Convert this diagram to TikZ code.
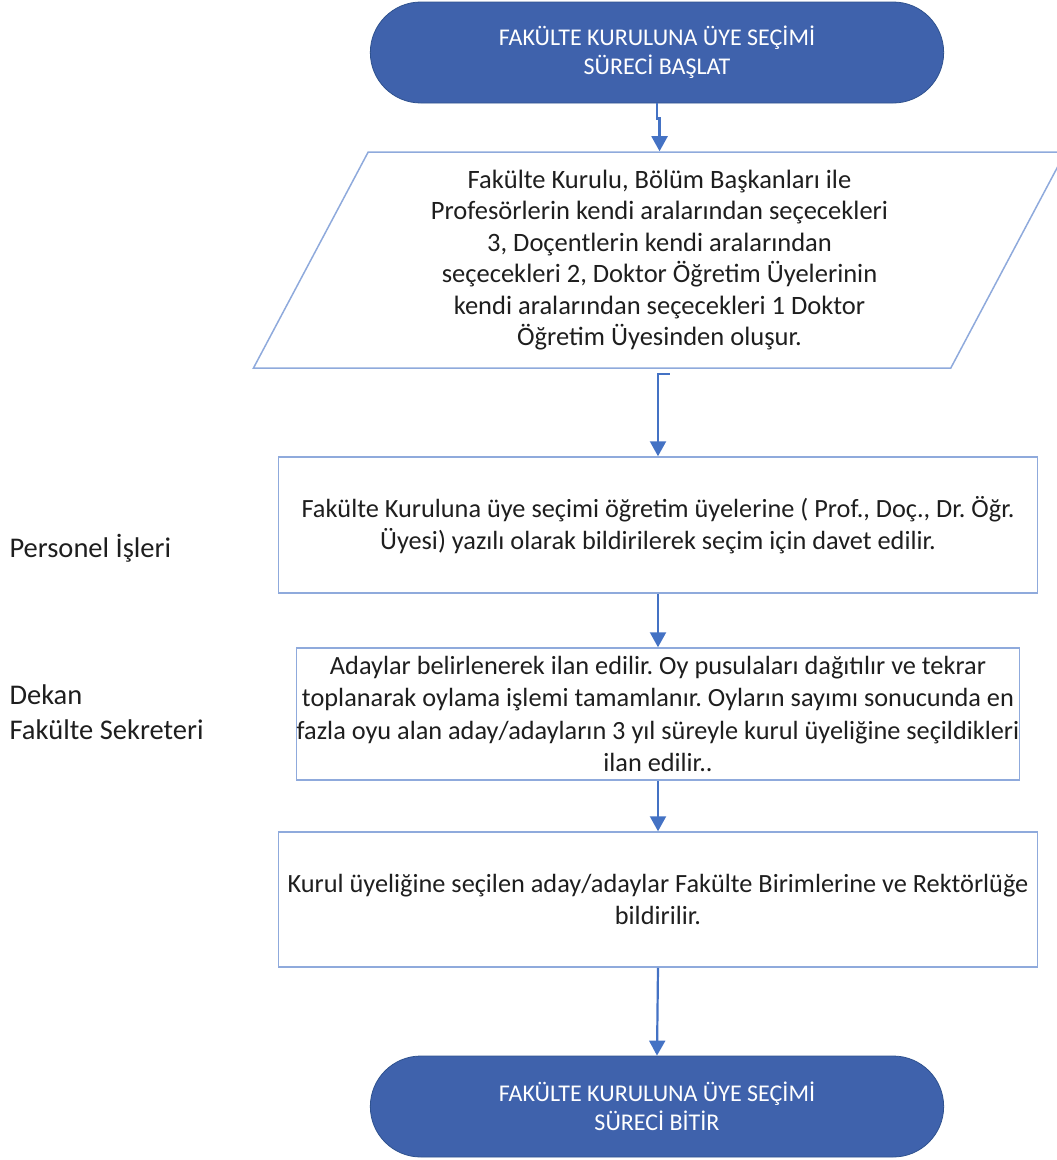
\documentclass[tikz,border=0pt]{standalone}
\usepackage{fontspec}
\setmainfont{Carlito}
\frenchspacing
\usetikzlibrary{arrows.meta,calc,shapes.geometric,shapes.misc}
\definecolor{termblue}{RGB}{63,98,172}
\definecolor{termline}{RGB}{47,82,143}
\definecolor{boxline}{RGB}{143,170,220}
\definecolor{flowline}{RGB}{68,114,196}
\definecolor{inkgray}{RGB}{30,30,30}
\tikzset{
	term/.style={rounded rectangle, draw=termline, line width=0.8pt, fill=termblue, text=white, minimum width=580pt, minimum height=101pt, align=center, font=\fontsize{24}{29}\selectfont},
	procbox/.style={rectangle, draw=boxline, line width=1.5pt, align=center, text=inkgray, font=\fontsize{26.3}{32.3}\selectfont, inner sep=0pt},
	databox/.style={trapezium, trapezium left angle=63.43, trapezium right angle=116.57, trapezium stretches=true, draw=boxline, line width=1.5pt, minimum width=819pt, minimum height=216pt, align=center, text=inkgray, font=\fontsize{26.5}{31.4}\selectfont, inner sep=0pt},
	flow/.style={draw=flowline, line width=2.2pt, -{Triangle[width=16pt,length=15pt]}},
	lane/.style={anchor=west, align=left, text=inkgray, font=\fontsize{28.5}{35}\selectfont}
}

\begin{document}
\begin{tikzpicture}[x=1pt,y=-1pt]
			%%%%% START %%%%%
			
			\path[use as bounding box] (0,0) rectangle (1057,1160);
			\clip (0,0) rectangle (1057,1160);
			
			\node[term] (start) at (657,52.5) {FAKÜLTE KURULUNA ÜYE SEÇİMİ\\SÜRECİ BAŞLAT};
			
			\node[databox] (members) at (659.5,260) {Fakülte Kurulu, Bölüm Başkanları ile\\Profesörlerin kendi aralarından seçecekleri\\3, Doçentlerin kendi aralarından\\seçecekleri 2, Doktor Öğretim Üyelerinin\\kendi aralarından seçecekleri 1 Doktor\\Öğretim Üyesinden oluşur.};
			
			\node[procbox, minimum width=759pt, minimum height=136pt] (invite) at (658,525) {Fakülte Kuruluna üye seçimi öğretim üyelerine ( Prof., Doç., Dr. Öğr.\\Üyesi) yazılı olarak bildirilerek seçim için davet edilir.};
			\node[procbox, minimum width=699pt, minimum height=132pt] (vote) at (658,714) {Adaylar belirlenerek ilan edilir. Oy pusulaları dağıtılır ve tekrar\\toplanarak oylama işlemi tamamlanır. Oyların sayımı sonucunda en\\fazla oyu alan aday/adayların 3 yıl süreyle kurul üyeliğine seçildikleri\\ilan edilir..};
			\node[procbox, minimum width=759pt, minimum height=135pt] (notify) at (658,899.5) {Kurul üyeliğine seçilen aday/adaylar Fakülte Birimlerine ve Rektörlüğe\\bildirilir.};
			
			\node[term] (finish) at (657,1106.5) {FAKÜLTE KURULUNA ÜYE SEÇİMİ\\SÜRECİ BİTİR};
			
			\node[lane] (staff) at (6,548) {Personel İşleri};
			\node[lane] (dean) at (6,712) {Dekan\\Fakülte Sekreteri};
			
			\draw[flow] (start.south) -- ++(0,15) -| (members.north);
			\draw[flow] ($(members.south)+(10,5)$) -| (invite.north);
			\draw[flow] (invite.south) -- (vote.north);
			\draw[flow] (vote.south) -- (notify.north);
			\draw[flow] (notify.south) -- (finish.north);
			
			%%%%% END %%%%%
		\end{tikzpicture}
\end{document}
